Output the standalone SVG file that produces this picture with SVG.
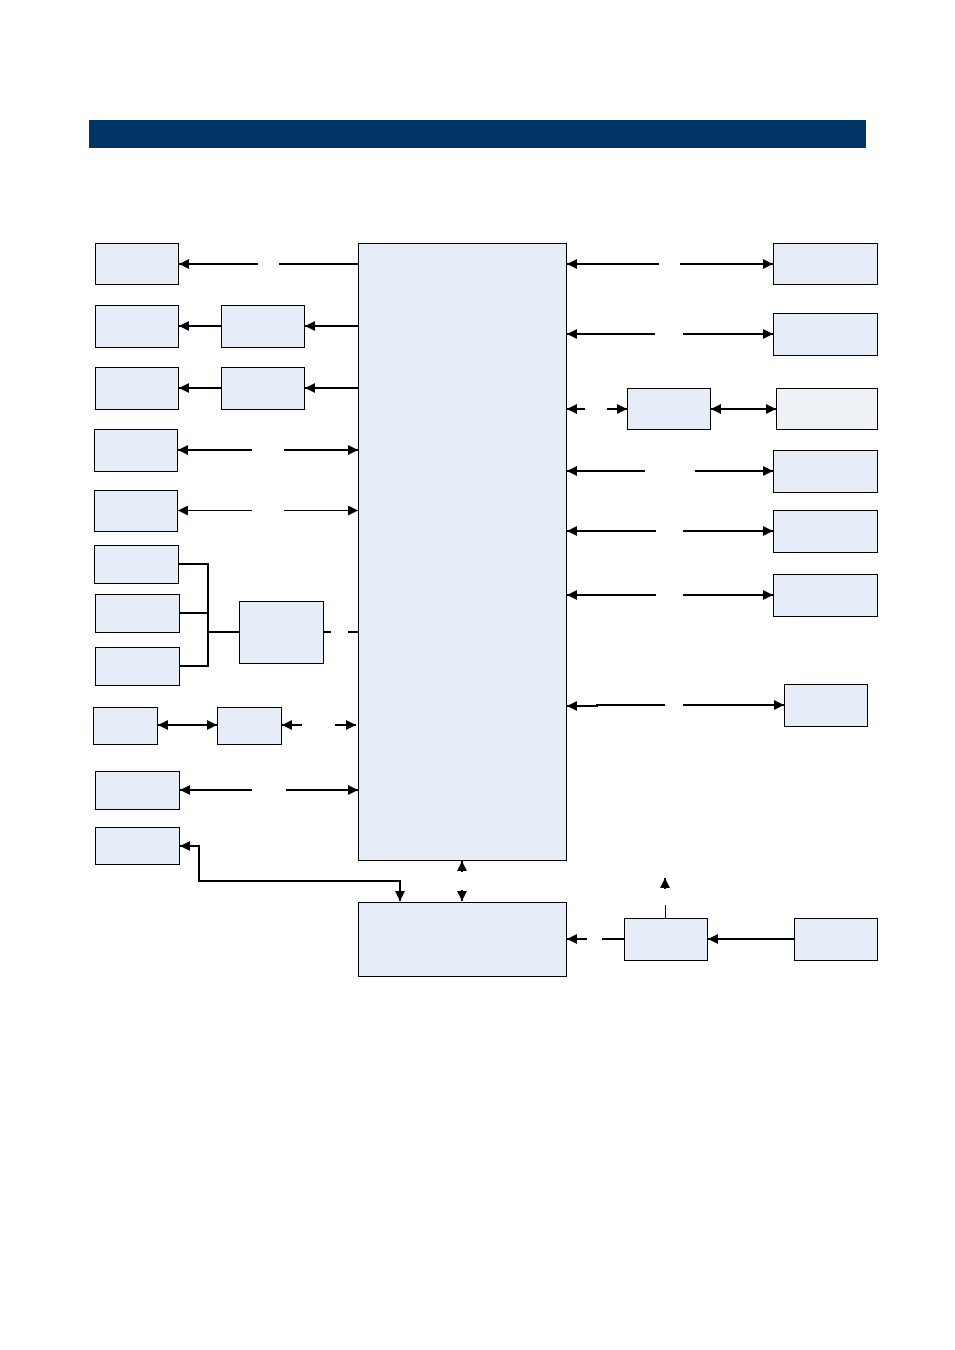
<svg xmlns="http://www.w3.org/2000/svg" width="955" height="1350" viewBox="0 0 955 1350">
<style>
.n{fill:#e6edf8;stroke:#000;stroke-width:1}
.l{fill:none;stroke:#000;stroke-width:2}
.t{fill:none;stroke:#000;stroke-width:1}
</style>
<defs>
<marker id="a" viewBox="0 0 10 10" refX="10" refY="5" markerWidth="11" markerHeight="10" markerUnits="userSpaceOnUse" orient="auto-start-reverse"><path d="M0,0L10,5L0,10z" fill="#000"/></marker>
</defs>
<rect x="89" y="120" width="777" height="28" fill="#003466"/>
<g id="cpu"><rect class="n" x="358.5" y="243.5" width="208" height="617"/></g>
<g id="pch"><rect class="n" x="358.5" y="902.5" width="208" height="74"/></g>
<g id="l1"><rect class="n" x="95.5" y="243.5" width="83" height="41"/></g>
<g id="l2"><rect class="n" x="95.5" y="305.5" width="83" height="42"/></g>
<g id="l2m"><rect class="n" x="221.5" y="305.5" width="83" height="42"/></g>
<g id="l3"><rect class="n" x="95.5" y="367.5" width="83" height="42"/></g>
<g id="l3m"><rect class="n" x="221.5" y="367.5" width="83" height="42"/></g>
<g id="l4"><rect class="n" x="94.5" y="429.5" width="83" height="42"/></g>
<g id="l5"><rect class="n" x="94.5" y="490.5" width="83" height="41"/></g>
<g id="l6"><rect class="n" x="94.5" y="545.5" width="84" height="38"/></g>
<g id="l7"><rect class="n" x="95.5" y="594.5" width="84" height="38"/></g>
<g id="l8"><rect class="n" x="95.5" y="647.5" width="84" height="38"/></g>
<g id="l678m"><rect class="n" x="239.5" y="601.5" width="84" height="62"/></g>
<g id="l9"><rect class="n" x="93.5" y="707.5" width="64" height="37"/></g>
<g id="l9m"><rect class="n" x="217.5" y="707.5" width="64" height="37"/></g>
<g id="l10"><rect class="n" x="95.5" y="771.5" width="84" height="38"/></g>
<g id="l11"><rect class="n" x="95.5" y="827.5" width="84" height="37"/></g>
<g id="r1"><rect class="n" x="773.5" y="243.5" width="104" height="41"/></g>
<g id="r2"><rect class="n" x="773.5" y="313.5" width="104" height="42"/></g>
<g id="r3m"><rect class="n" x="627.5" y="388.5" width="83" height="41"/></g>
<g id="r3"><rect x="776.5" y="388.5" width="101" height="41" fill="#eef1f6" stroke="#000"/></g>
<g id="r4"><rect class="n" x="773.5" y="450.5" width="104" height="42"/></g>
<g id="r5"><rect class="n" x="773.5" y="510.5" width="104" height="42"/></g>
<g id="r6"><rect class="n" x="773.5" y="574.5" width="104" height="42"/></g>
<g id="r7"><rect class="n" x="784.5" y="684.5" width="83" height="42"/></g>
<g id="b1"><rect class="n" x="624.5" y="918.5" width="83" height="42"/></g>
<g id="b2"><rect class="n" x="794.5" y="918.5" width="83" height="42"/></g>
<g id="connectors">
<path class="l" d="M258,264H179" marker-end="url(#a)"/>
<path class="l" d="M279,264H358"/>
<path class="l" d="M221,326H179" marker-end="url(#a)"/>
<path class="l" d="M358,326H305" marker-end="url(#a)"/>
<path class="l" d="M221,388H179" marker-end="url(#a)"/>
<path class="l" d="M358,388H305" marker-end="url(#a)"/>
<path class="l" d="M252,450H178" marker-end="url(#a)"/>
<path class="l" d="M284,450H358" marker-end="url(#a)"/>
<path class="t" d="M252,510.5H178" marker-end="url(#a)"/>
<path class="t" d="M284,510.5H358" marker-end="url(#a)"/>
<path class="l" d="M178,564H208V666H179M179,613H208M208,632H239"/>
<path class="l" d="M323,632H331M348,632H358"/>
<path class="l" d="M158,725H217" marker-start="url(#a)" marker-end="url(#a)"/>
<path class="l" d="M302,725H282" marker-end="url(#a)"/>
<path class="l" d="M335,725H356" marker-end="url(#a)"/>
<path class="l" d="M252,790H180" marker-end="url(#a)"/>
<path class="l" d="M286,790H358" marker-end="url(#a)"/>
<path class="l" d="M400,901V881H199V846H180" marker-start="url(#a)" marker-end="url(#a)"/>
<path class="l" d="M462,872V861" marker-end="url(#a)"/>
<path class="l" d="M462,890V901" marker-end="url(#a)"/>
<path class="l" d="M659,264H567" marker-end="url(#a)"/>
<path class="l" d="M680,264H773" marker-end="url(#a)"/>
<path class="l" d="M655,334H567" marker-end="url(#a)"/>
<path class="l" d="M683,334H773" marker-end="url(#a)"/>
<path class="l" d="M585,409H567" marker-end="url(#a)"/>
<path class="l" d="M607,409H627" marker-end="url(#a)"/>
<path class="l" d="M711,409H776" marker-start="url(#a)" marker-end="url(#a)"/>
<path class="l" d="M645,471H567" marker-end="url(#a)"/>
<path class="l" d="M695,471H773" marker-end="url(#a)"/>
<path class="l" d="M656,531H567" marker-end="url(#a)"/>
<path class="l" d="M683,531H773" marker-end="url(#a)"/>
<path class="l" d="M656,595H567" marker-end="url(#a)"/>
<path class="l" d="M683,595H773" marker-end="url(#a)"/>
<path class="l" d="M665,705H597V706H567" marker-end="url(#a)"/>
<path class="l" d="M683,705H784" marker-end="url(#a)"/>
<path class="l" d="M794,939H708" marker-end="url(#a)"/>
<path class="l" d="M587,939H567" marker-end="url(#a)"/>
<path class="l" d="M602,939H624"/>
<path class="t" d="M665.5,918V905"/>
<path class="l" d="M665,889V878" marker-end="url(#a)"/>
</g>
</svg>
